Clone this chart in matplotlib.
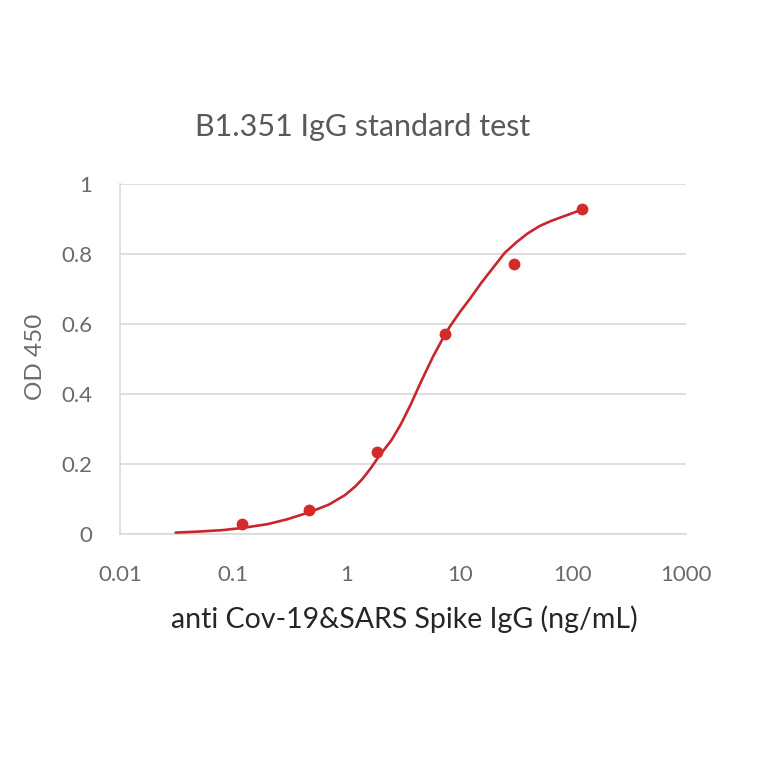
import matplotlib
matplotlib.use("Agg")
import matplotlib.pyplot as plt
from matplotlib.ticker import FixedLocator, FixedFormatter, NullLocator

# measured standards (4-fold dilutions)
conc = [0.12, 0.47, 1.875, 7.5, 30, 120]
od450 = [0.029, 0.069, 0.235, 0.572, 0.770, 0.928]

# fitted curve
curve_x = [0.031, 0.05, 0.08, 0.119, 0.2, 0.3, 0.479, 0.7, 0.97, 1.2, 1.4, 1.65, 1.94, 2.5,
           3.02, 3.7, 4.4, 5.1, 5.83, 6.9, 8.1, 10.0, 12.4, 15.5, 19.9, 25.0, 31.9, 40.0,
           51.0, 65.0, 82.0, 100.0, 122.0]
curve_y = [0.004, 0.007, 0.011, 0.017, 0.028, 0.042, 0.063, 0.084, 0.111, 0.136, 0.159, 0.189, 0.222, 0.268,
           0.313, 0.370, 0.424, 0.468, 0.507, 0.551, 0.590, 0.633, 0.673, 0.717, 0.762, 0.803, 0.834, 0.859,
           0.880, 0.895, 0.907, 0.917, 0.928]

x_ticks = [0.01, 0.1, 1, 10, 100, 1000]
x_tick_labels = ["0.01", "0.1", "1", "10", "100", "1000"]
y_ticks = [0, 0.2, 0.4, 0.6, 0.8, 1.0]
y_tick_labels = ["0", "0.2", "0.4", "0.6", "0.8", "1"]

plt.rcParams["font.family"] = ["Lato", "DejaVu Sans"]

fig = plt.figure(figsize=(7.64, 7.64), dpi=100)
ax = fig.add_axes([120 / 764, 1 - 534 / 764, (686 - 120) / 764, (534 - 184) / 764])

red = "#c8262c"
ax.plot(curve_x, curve_y, color=red, lw=1.9, solid_capstyle="round",
        solid_joinstyle="round", zorder=3)
ax.plot(conc, od450, "o", color="#d42a2a", ms=8.5, mec="none", zorder=4)

ax.set_xscale("log")
ax.set_xlim(0.01, 1000)
ax.set_ylim(0, 1)
ax.xaxis.set_major_locator(FixedLocator(x_ticks))
ax.xaxis.set_major_formatter(FixedFormatter(x_tick_labels))
ax.xaxis.set_minor_locator(NullLocator())
ax.set_yticks(y_ticks)
ax.set_yticklabels(y_tick_labels)

ax.grid(axis="y", color="#d9d9d9", lw=1.2)
ax.set_axisbelow(True)
for s in ["top", "right"]:
    ax.spines[s].set_visible(False)
for s in ["left", "bottom"]:
    ax.spines[s].set_color("#d9d9d9")
    ax.spines[s].set_linewidth(1.2)
ax.tick_params(length=0, labelsize=16, labelcolor="#6b6b6b")
ax.tick_params(axis="x", pad=22)
ax.tick_params(axis="y", pad=20)

fig.text(363 / 764, 1 - 127 / 764, "B1.351 IgG standard test", ha="center", va="center",
         fontsize=22, color="#595959")
fig.text(404 / 764, 1 - 619 / 764, "anti Cov-19&SARS Spike IgG (ng/mL)", ha="center",
         va="center", fontsize=20.5, color="#262626")
fig.text(35 / 764, 1 - 357 / 764, "OD 450", ha="center", va="center", rotation=90,
         fontsize=17.5, color="#6b6b6b")

fig.savefig("out.png", dpi=100, facecolor="white")
